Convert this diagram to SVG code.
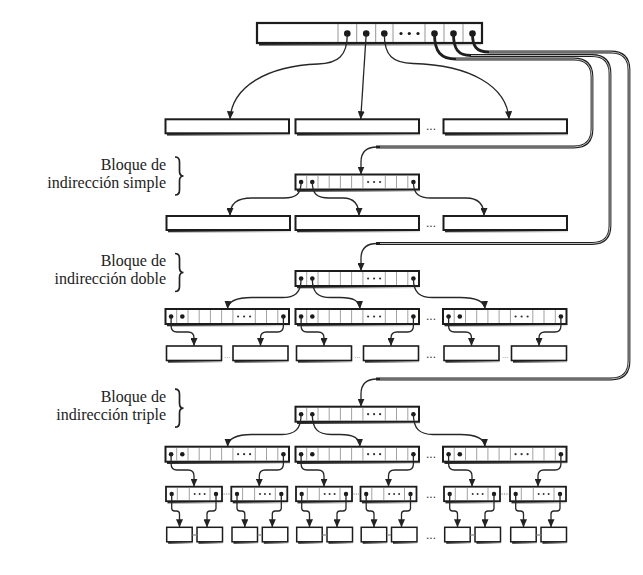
<svg xmlns="http://www.w3.org/2000/svg" width="643" height="575" viewBox="0 0 643 575">
<style>
.cn{fill:none;stroke:#262626;stroke-width:1.3;marker-end:url(#ah)}
.ln{fill:none;stroke:#1e1e1e;stroke-width:2.8}
.lnw{fill:none;stroke:#fff;stroke-width:0.7}
.lbl{font-family:"Liberation Serif","Times New Roman",serif;font-size:16px;fill:#222;text-anchor:end}
.ell{font-family:"Liberation Sans",Arial,sans-serif;font-size:12px;fill:#333;text-anchor:middle}
.ells{font-family:"Liberation Sans",Arial,sans-serif;font-size:8px;fill:#888;text-anchor:middle}
.gsep{stroke:#a8a8a8;stroke-width:1.3;stroke-dasharray:1.2 1.2}
.brace{fill:none;stroke:#222;stroke-width:1.7}
</style>
<defs>
<linearGradient id="shade" x1="0" x2="1" y1="0" y2="0">
<stop offset="0" stop-color="#2a2a2a"/><stop offset="0.55" stop-color="#8a8a8a"/><stop offset="1" stop-color="#e6e6e6"/>
</linearGradient>
<marker id="ah" markerUnits="userSpaceOnUse" markerWidth="8" markerHeight="7" refX="8" refY="3.5" orient="auto">
<path d="M0,0 L8,3.5 L0,7 z" fill="#222"/>
</marker>
<g id="b10">
<rect x="1.5" y="15" width="123" height="2.3" fill="url(#shade)"/>
<rect width="123.5" height="15" fill="#fff" stroke="#1c1c1c" stroke-width="2"/>
<path d="M11.2,1V14M22.5,1V14M33.7,1V14M44.9,1V14M56.1,1V14M67.4,1V14M89.8,1V14M101,1V14M112.3,1V14" stroke="#8a8a8a" stroke-width="0.8"/>
<circle cx="5.6" cy="7.5" r="2.3" fill="#1a1a1a"/><circle cx="16.8" cy="7.5" r="2.3" fill="#1a1a1a"/><circle cx="117.9" cy="7.5" r="2.3" fill="#1a1a1a"/>
<circle cx="72.6" cy="7.5" r="1.1" fill="#333"/><circle cx="78.6" cy="7.5" r="1.1" fill="#333"/><circle cx="84.6" cy="7.5" r="1.1" fill="#333"/>
</g>
<g id="b4">
<rect x="1.5" y="14.5" width="55" height="2.2" fill="url(#shade)"/>
<rect width="56" height="14.5" fill="#fff" stroke="#1c1c1c" stroke-width="1.8"/>
<path d="M11.3,1V13.5M23.3,1V13.5M44,1V13.5" stroke="#8a8a8a" stroke-width="0.8"/>
<circle cx="5.7" cy="7.25" r="2.2" fill="#1a1a1a"/><circle cx="50" cy="7.25" r="2.2" fill="#1a1a1a"/>
<circle cx="28.7" cy="7.25" r="1" fill="#333"/><circle cx="33.65" cy="7.25" r="1" fill="#333"/><circle cx="38.6" cy="7.25" r="1" fill="#333"/>
</g>
<g id="lw">
<rect x="1.5" y="14" width="123" height="2.3" fill="url(#shade)"/>
<rect width="123.5" height="14" fill="#fff" stroke="#1c1c1c" stroke-width="2"/>
</g>
<g id="l55">
<rect x="1.5" y="14.5" width="54" height="2.2" fill="url(#shade)"/>
<rect width="55" height="14.5" fill="#fff" stroke="#1c1c1c" stroke-width="1.6"/>
</g>
<g id="l25">
<rect x="1.5" y="14.5" width="24.5" height="2" fill="url(#shade)"/>
<rect width="25.5" height="14.5" fill="#fff" stroke="#1c1c1c" stroke-width="1.5"/>
</g>
<path id="br" d="M175,157 C178.5,157 179.5,159 179.5,162 L179.5,171 C179.5,174 181,176 183.5,176 C181,176 179.5,178 179.5,181 L179.5,190 C179.5,193 178.5,195 175,195"/>
</defs>
<rect width="643" height="575" fill="#fff"/>

<!-- inode -->
<g id="inodo">
<rect x="259" y="43" width="222" height="2.6" fill="url(#shade)"/>
<rect x="257" y="23" width="225" height="20" fill="#fff" stroke="#1c1c1c" stroke-width="2.2"/>
<path d="M338,24V42M356.7,24V42M375.7,24V42M393,24V42M425,24V42M444,24V42M463,24V42" stroke="#8a8a8a" stroke-width="0.9"/>
<g fill="#1a1a1a">
<circle cx="347.3" cy="33.5" r="3.3"/><circle cx="366.2" cy="33.5" r="3.3"/><circle cx="384.3" cy="33.5" r="3.3"/>
<circle cx="434.5" cy="33.5" r="3.3"/><circle cx="453.5" cy="33.5" r="3.3"/><circle cx="472.5" cy="33.5" r="3.3"/>
<circle cx="401" cy="33.5" r="1.6"/><circle cx="409.3" cy="33.5" r="1.6"/><circle cx="418" cy="33.5" r="1.6"/>
</g>
</g>

<!-- level 1 direct blocks -->
<g id="directo1"><use href="#lw" x="165.5" y="119.3"/></g>
<g id="directo2"><use href="#lw" x="295.5" y="119.3"/></g>
<g id="directo3"><use href="#lw" x="443.5" y="119.3"/></g>
<text class="ell" x="431" y="130">...</text>

<!-- simple -->
<g id="label-simple">
<text class="lbl" x="166" y="169.5">Bloque de</text>
<text class="lbl" x="166" y="187.5">indirección simple</text>
<use href="#br" class="brace"/>
</g>
<g id="simple"><use href="#b10" x="295.5" y="174.5"/></g>
<g id="simple-d1"><use href="#lw" x="166.5" y="216"/></g>
<g id="simple-d2"><use href="#lw" x="295.5" y="216"/></g>
<g id="simple-d3"><use href="#lw" x="443.5" y="216"/></g>
<text class="ell" x="431" y="227">...</text>

<!-- doble -->
<g id="label-doble">
<text class="lbl" x="166" y="266">Bloque de</text>
<text class="lbl" x="166" y="284">indirección doble</text>
<use href="#br" class="brace" y="96.5"/>
</g>
<g id="doble"><use href="#b10" x="295.5" y="271"/></g>
<g id="doble-a"><use href="#b10" x="165.5" y="309"/></g>
<g id="doble-b"><use href="#b10" x="295.5" y="309"/></g>
<g id="doble-c"><use href="#b10" x="443" y="309"/></g>
<text class="ell" x="431" y="320">...</text>
<g id="doble-d1"><use href="#l55" x="166.5" y="346"/></g>
<g id="doble-d2"><use href="#l55" x="233" y="346"/></g>
<g id="doble-d3"><use href="#l55" x="296.5" y="346"/></g>
<g id="doble-d4"><use href="#l55" x="363.5" y="346"/></g>
<g id="doble-d5"><use href="#l55" x="444" y="346"/></g>
<g id="doble-d6"><use href="#l55" x="511.5" y="346"/></g>
<text class="ells" x="227.3" y="358">...</text>
<text class="ells" x="357.5" y="358">...</text>
<text class="ells" x="505.3" y="358">...</text>
<text class="ell" x="431" y="358">...</text>

<!-- triple -->
<g id="label-triple">
<text class="lbl" x="166" y="401.7">Bloque de</text>
<text class="lbl" x="166" y="419.7">indirección triple</text>
<use href="#br" class="brace" y="232.2"/>
</g>
<g id="triple"><use href="#b10" x="295.5" y="406.7"/></g>
<g id="triple-a"><use href="#b10" x="165.5" y="446.7"/></g>
<g id="triple-b"><use href="#b10" x="295.5" y="446.7"/></g>
<g id="triple-c"><use href="#b10" x="443" y="446.7"/></g>
<text class="ell" x="431" y="458">...</text>
<g id="triple-a1"><use href="#b4" x="166" y="486.7"/></g>
<g id="triple-a2"><use href="#b4" x="231.3" y="486.7"/></g>
<g id="triple-b1"><use href="#b4" x="296" y="486.7"/></g>
<g id="triple-b2"><use href="#b4" x="360.5" y="486.7"/></g>
<g id="triple-c1"><use href="#b4" x="444" y="486.7"/></g>
<g id="triple-c2"><use href="#b4" x="510" y="486.7"/></g>
<text class="ell" x="431" y="498">...</text>
<path class="gsep" d="M223.5,494H230M353.5,494H359.5M501.5,494H509"/>
<g id="triple-d1"><use href="#l25" x="166.7" y="527.3"/></g>
<g id="triple-d2"><use href="#l25" x="197" y="527.3"/></g>
<g id="triple-d3"><use href="#l25" x="232" y="527.3"/></g>
<g id="triple-d4"><use href="#l25" x="262.3" y="527.3"/></g>
<g id="triple-d5"><use href="#l25" x="296.7" y="527.3"/></g>
<g id="triple-d6"><use href="#l25" x="327" y="527.3"/></g>
<g id="triple-d7"><use href="#l25" x="361.2" y="527.3"/></g>
<g id="triple-d8"><use href="#l25" x="391.5" y="527.3"/></g>
<g id="triple-d9"><use href="#l25" x="444.7" y="527.3"/></g>
<g id="triple-d10"><use href="#l25" x="475" y="527.3"/></g>
<g id="triple-d11"><use href="#l25" x="510.7" y="527.3"/></g>
<g id="triple-d12"><use href="#l25" x="541" y="527.3"/></g>
<path d="M192.5,535H196.5M257.8,535H261.8M322.5,535H326.5M387,535H391M470.5,535H474.5M536.5,535H540.5" stroke="#9a9a9a" stroke-width="1.6"/>
<text class="ell" x="431" y="539">...</text>

<!-- connectors -->
<g id="conectores">
<path class="cn" d="M347.3,34 C347.3,56 338,63.5 318,64 C268,66 232,86 230,119.3"/>
<path class="cn" d="M366.2,34 L360.7,119.3"/>
<path class="cn" d="M384.3,34 C384.3,56 393,63 413,63.5 C470,65 507,86 509,119.3"/>

<path class="ln" d="M434.5,34 C434.5,52 441,59 456,59 L574,59 Q592,59 592,77 L592,129 Q592,147 574,147 L376,147"/>
<path class="ln" d="M453.5,34 C453.5,49 458,55.5 471,55.5 L592,55.5 Q610,55.5 610,73.5 L610,225.5 Q610,243.5 592,243.5 L376,243.5"/>
<path class="ln" d="M472.5,34 C472.5,46 476,52 489,52 L611,52 Q629,52 629,70 L629,361 Q629,379 611,379 L376,379"/>
<path class="lnw" d="M456,59 L574,59 Q592,59 592,77 L592,129 Q592,147 574,147 L380,147"/>
<path class="lnw" d="M471,55.5 L592,55.5 Q610,55.5 610,73.5 L610,225.5 Q610,243.5 592,243.5 L380,243.5"/>
<path class="lnw" d="M489,52 L611,52 Q629,52 629,70 L629,361 Q629,379 611,379 L380,379"/>
<path class="cn" d="M377,147 Q361,147 361,162 L361,174.5"/>
<path class="cn" d="M377,243.5 Q361,243.5 361,258.5 L361,271"/>
<path class="cn" d="M377,379 Q361,379 361,394 L361,406.7"/>

<path class="cn" d="M301.1,182 C301.1,194 296,198 284,198 L252,198 C236,198 230,204 230,216"/>
<path class="cn" d="M312.3,182 C312.3,194 317,198 329,198 L343,198 C354,198 359,204 359,216"/>
<path class="cn" d="M413.4,182 C413.4,194 419,198 431,198 L466,198 C478,198 484,204 484,216"/>

<path class="cn" d="M301.1,278.5 C301.1,293 295,297.5 282,297.5 L252,297.5 C236,297.5 228,301 227.5,309"/>
<path class="cn" d="M312.3,278.5 C312.3,293 318,297.5 331,297.5 L340,297.5 C354,297.5 359.5,301 360,309"/>
<path class="cn" d="M413.4,278.5 C413.4,293 420,297.5 433,297.5 L460,297.5 C476,297.5 484.5,301 485,309"/>

<path class="cn" d="M301.1,414.2 C301.1,429 295,434.5 282,434.5 L252,434.5 C236,434.5 228,438 227.5,446.7"/>
<path class="cn" d="M312.3,414.2 C312.3,429 318,434.5 331,434.5 L340,434.5 C354,434.5 359.5,438 360,446.7"/>
<path class="cn" d="M413.4,414.2 C413.4,429 420,434.5 433,434.5 L460,434.5 C476,434.5 484.5,438 485,446.7"/>

<path class="cn" d="M171.1,316.5 V326 Q171.1,332 177.1,332 H188 Q194,332 194,338 V346"/>
<path class="cn" d="M283.4,316.5 V326 Q283.4,332 277.4,332 H266.5 Q260.5,332 260.5,338 V346"/>
<path class="cn" d="M301.1,316.5 V326 Q301.1,332 307.1,332 H318 Q324,332 324,338 V346"/>
<path class="cn" d="M413.4,316.5 V326 Q413.4,332 407.4,332 H397 Q391,332 391,338 V346"/>
<path class="cn" d="M448.6,316.5 V326 Q448.6,332 454.6,332 H465.5 Q471.5,332 471.5,338 V346"/>
<path class="cn" d="M560.9,316.5 V326 Q560.9,332 554.9,332 H545 Q539,332 539,338 V346"/>

<path class="cn" d="M171.1,454.2 V464 Q171.1,470 177.1,470 H188 Q194,470 194,476 V486.7"/>
<path class="cn" d="M283.4,454.2 V464 Q283.4,470 277.4,470 H265.3 Q259.3,470 259.3,476 V486.7"/>
<path class="cn" d="M301.1,454.2 V464 Q301.1,470 307.1,470 H318 Q324,470 324,476 V486.7"/>
<path class="cn" d="M413.4,454.2 V464 Q413.4,470 407.4,470 H394.5 Q388.5,470 388.5,476 V486.7"/>
<path class="cn" d="M448.6,454.2 V464 Q448.6,470 454.6,470 H466 Q472,470 472,476 V486.7"/>
<path class="cn" d="M560.9,454.2 V464 Q560.9,470 554.9,470 H544 Q538,470 538,476 V486.7"/>

<path class="cn" d="M171.7,494 V508 Q171.7,511 174.7,511 H176.5 Q179.5,511 179.5,514 V527.3"/>
<path class="cn" d="M216,494 V508 Q216,511 213,511 H210 Q207,511 207,514 V527.3"/>
<path class="cn" d="M237,494 V508 Q237,511 240,511 H241.8 Q244.8,511 244.8,514 V527.3"/>
<path class="cn" d="M281.3,494 V508 Q281.3,511 278.3,511 H275.3 Q272.3,511 272.3,514 V527.3"/>
<path class="cn" d="M301.7,494 V508 Q301.7,511 304.7,511 H306.5 Q309.5,511 309.5,514 V527.3"/>
<path class="cn" d="M346,494 V508 Q346,511 343,511 H340 Q337,511 337,514 V527.3"/>
<path class="cn" d="M366.2,494 V508 Q366.2,511 369.2,511 H371 Q374,511 374,514 V527.3"/>
<path class="cn" d="M410.5,494 V508 Q410.5,511 407.5,511 H404.5 Q401.5,511 401.5,514 V527.3"/>
<path class="cn" d="M449.7,494 V508 Q449.7,511 452.7,511 H454.5 Q457.5,511 457.5,514 V527.3"/>
<path class="cn" d="M494,494 V508 Q494,511 491,511 H488 Q485,511 485,514 V527.3"/>
<path class="cn" d="M515.7,494 V508 Q515.7,511 518.7,511 H520.5 Q523.5,511 523.5,514 V527.3"/>
<path class="cn" d="M560,494 V508 Q560,511 557,511 H554 Q551,511 551,514 V527.3"/>
</g>
</svg>
